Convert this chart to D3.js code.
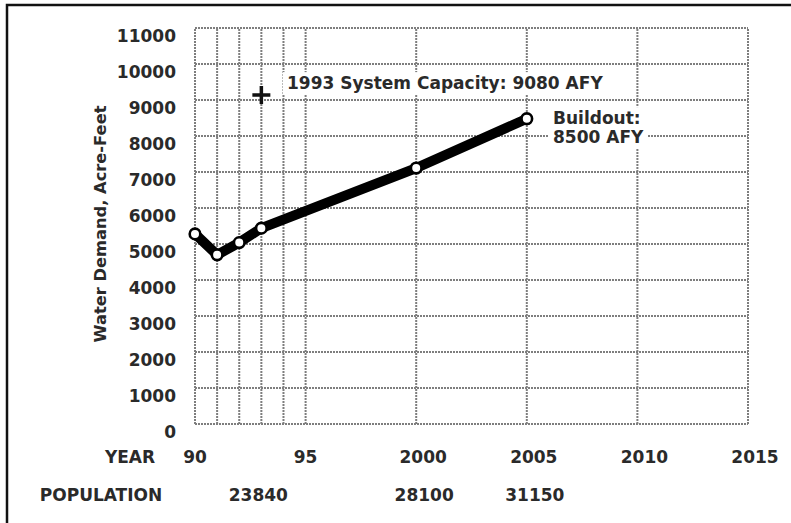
<!DOCTYPE html>
<html><head><meta charset="utf-8">
<script src="https://cdn.jsdelivr.net/npm/d3@7"></script>
<style>
body{margin:0;background:#fff;}
svg{display:block;}
text{font-family:"DejaVu Sans",sans-serif;font-weight:bold;fill:#2a2a2a;}
</style></head>
<body><svg id="c" width="791" height="523"></svg>
<script>
const years = [1990, 1991, 1992, 1993, 2000, 2005];
const demand = [5280, 4700, 5040, 5440, 7110, 8480];
const yTicks = [0,1000,2000,3000,4000,5000,6000,7000,8000,9000,10000,11000];
const xGrid = [1990,1991,1992,1993,1994,1995,2000,2005,2010,2015];
const yearTicks = [1990,1995,2000,2005,2010,2015];
const yearLabels = ["90","95","2000","2005","2010","2015"];
const popYears = [1993, 2000, 2005];
const popValues = ["23840","28100","31150"];
const capacityYear = 1993, capacityValue = 9140;

const svg = d3.select("#c");
const x = d3.scaleLinear().domain([1990,2015]).range([195,748]);
const y = d3.scaleLinear().domain([0,11000]).range([424,28]);

// frame
svg.append("rect").attr("x",7).attr("y",5).attr("width",800).attr("height",530)
  .attr("fill","none").attr("stroke","#111").attr("stroke-width",2.5);

const g = svg.append("g");
const gridStyle = s => s.attr("stroke","#7e7e7e").attr("stroke-width",2).attr("stroke-dasharray","2,1");
g.selectAll("line.h").data(yTicks).join("line").attr("class","h")
  .attr("x1",x(1990)).attr("x2",x(2015)).attr("y1",d=>y(d)).attr("y2",d=>y(d)).call(gridStyle);
g.selectAll("line.v").data(xGrid).join("line").attr("class","v")
  .attr("y1",y(0)).attr("y2",y(11000)).attr("x1",d=>x(d)).attr("x2",d=>x(d)).call(gridStyle);

// y tick labels
svg.selectAll("text.yt").data(yTicks).join("text").attr("class","yt")
  .attr("x",176).attr("y",d=>y(d)+8).attr("dy","0.36em").attr("text-anchor","end")
  .attr("font-size",17).text(d=>d);

// y title
svg.append("text").attr("transform","translate(100,224) rotate(-90)")
  .attr("text-anchor","middle").attr("dy","0.36em").attr("font-size",16.3)
  .text("Water Demand, Acre-Feet");

// year row
svg.append("text").attr("x",130).attr("y",457).attr("dy","0.36em").attr("text-anchor","middle")
  .attr("font-size",17).text("YEAR");
svg.selectAll("text.yr").data(yearTicks).join("text").attr("class","yr")
  .attr("x",(d,i)=>x(d)+(i<2?0:7)).attr("y",457).attr("dy","0.36em").attr("text-anchor","middle")
  .attr("font-size",17).text((d,i)=>yearLabels[i]);
// population row
svg.append("text").attr("x",101).attr("y",495).attr("dy","0.36em").attr("text-anchor","middle")
  .attr("font-size",17).text("POPULATION");
svg.selectAll("text.pop").data(popYears).join("text").attr("class","pop")
  .attr("x",(d,i)=>x(d)+(i==0?-3:8)).attr("y",495).attr("dy","0.36em").attr("text-anchor","middle")
  .attr("font-size",17).text((d,i)=>popValues[i]);

// annotation labels with white backgrounds
function label(tx, ty, lines){
  const grp = svg.append("g");
  const t = grp.append("text").attr("x",tx).attr("y",ty).attr("font-size",17);
  lines.forEach((l,i)=>t.append("tspan").attr("x",tx).attr("dy",i?"19":"0.36em").text(l));
  const b = t.node().getBBox();
  grp.insert("rect","text").attr("x",b.x-4).attr("y",b.y-1).attr("width",b.width+8).attr("height",b.height+2).attr("fill","#fff");
}
label(287, 83, ["1993 System Capacity: 9080 AFY"]);
label(553, 118, ["Buildout:","8500 AFY"]);

// capacity cross
const cx = x(capacityYear), cy = y(capacityValue);
svg.append("path").attr("d",`M${cx-9},${cy}H${cx+9}M${cx},${cy-9}V${cy+9}`)
  .attr("stroke","#111").attr("stroke-width",3.5);

// demand line
const pts = years.map((d,i)=>[x(d), y(demand[i])]);
svg.append("path").attr("d",d3.line()(pts)).attr("fill","none").attr("stroke","#000")
  .attr("stroke-width",10).attr("stroke-linejoin","round").attr("stroke-linecap","round");
svg.selectAll("circle.p").data(pts).join("circle").attr("class","p")
  .attr("cx",d=>d[0]).attr("cy",d=>d[1]).attr("r",5.3).attr("fill","#fff")
  .attr("stroke","#000").attr("stroke-width",2.6);
</script></body></html>
